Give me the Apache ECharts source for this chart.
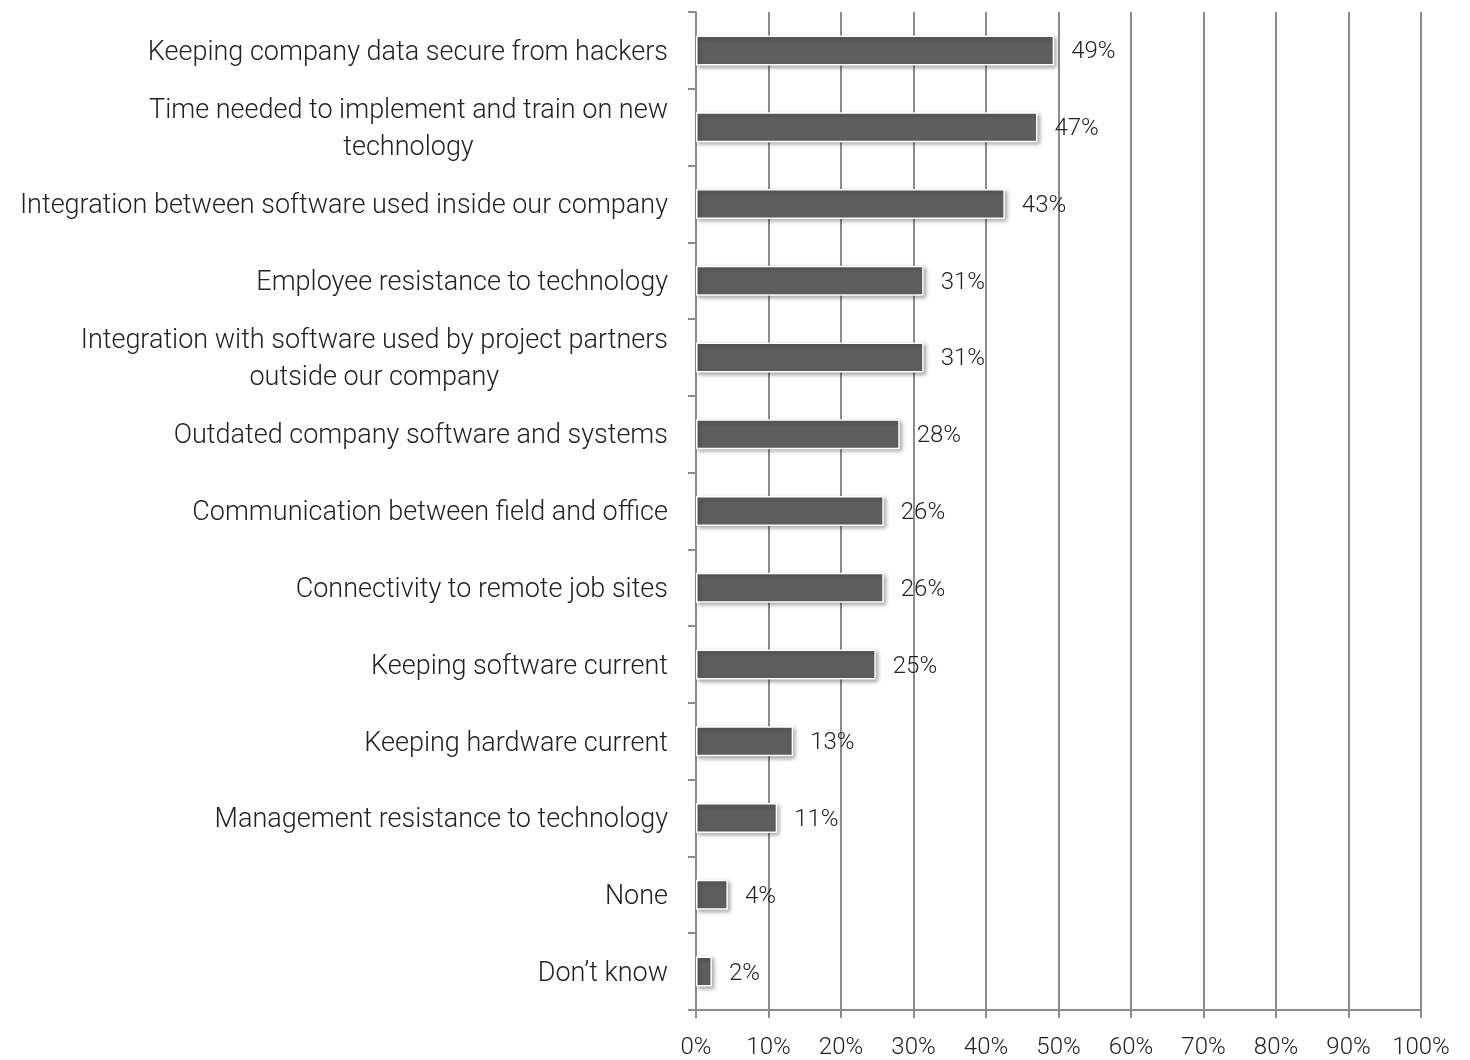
<!DOCTYPE html>
<html><head><meta charset="utf-8">
<script src="https://cdn.jsdelivr.net/npm/echarts@6/dist/echarts.min.js"></script>
<style>html,body{margin:0;padding:0;background:#fff}#c{width:1470px;height:1060px}</style>
</head><body><div id="c"></div>
<script>
const categories = [
  "Keeping company data secure from hackers",
  "Time needed to implement and train on new\ntechnology",
  "Integration between software used inside our company",
  "Employee resistance to technology",
  "Integration with software used by project partners\noutside our company",
  "Outdated company software and systems",
  "Communication between field and office",
  "Connectivity to remote job sites",
  "Keeping software current",
  "Keeping hardware current",
  "Management resistance to technology",
  "None",
  "Don\u2019t know"
];
const values = [49.4, 47.1, 42.6, 31.4, 31.4, 28.1, 25.9, 25.9, 24.8, 13.4, 11.2, 4.4, 2.2];
const xMin = 0, xMax = 100, xStep = 10;

const FONT = 'Roboto';
const LABEL_SIZE = 27;
const chart = echarts.init(document.getElementById('c'), null, {renderer: 'canvas'});
const option = {
  animation: false,
  backgroundColor: '#fff',
  grid: {left: 696, right: 49, top: 12, bottom: 47, containLabel: false},
  xAxis: {
    type: 'value', min: xMin, max: xMax, interval: xStep,
    axisLine: {show: true, lineStyle: {color: '#8c8c8c', width: 2}},
    axisTick: {show: true, length: 8, lineStyle: {color: '#8c8c8c', width: 2}},
    splitLine: {show: true, lineStyle: {color: '#8c8c8c', width: 2}},
    axisLabel: {formatter: '{value}%', fontFamily: FONT, fontWeight: 300, fontSize: 24, color: '#222', margin: 26}
  },
  yAxis: {
    type: 'category', data: categories, inverse: true,
    axisLine: {show: true, lineStyle: {color: '#8c8c8c', width: 2}},
    axisTick: {show: true, length: 8, lineStyle: {color: '#8c8c8c', width: 2}},
    axisLabel: {
      fontFamily: FONT, fontWeight: 300, fontSize: LABEL_SIZE, color: '#222', margin: 28, lineHeight: 37,
      align: 'right', padding: [5, 0, 0, 0],
      formatter: function (v) {
        if (v.indexOf('\n') < 0) return v;
        return v.split('\n').map(s => '{c|' + s + '}').join('\n');
      },
      rich: {c: {align: 'center', fontFamily: FONT, fontWeight: 300, fontSize: LABEL_SIZE, color: '#222', lineHeight: 37}}
    }
  },
  series: [{
    type: 'bar', data: values, barWidth: 30,
    itemStyle: {color: '#5e5e5e', borderColor: '#fff', borderWidth: 1.5,
      shadowColor: 'rgba(0,0,0,0.35)', shadowBlur: 4, shadowOffsetX: 2, shadowOffsetY: 2},
    label: {show: true, position: 'right', distance: 17, fontFamily: FONT, fontWeight: 300, fontSize: 24, color: '#222',
      offset: [0, 2], formatter: p => Math.round(p.value) + '%'}
  }]
};
chart.setOption(option);
</script></body></html>
